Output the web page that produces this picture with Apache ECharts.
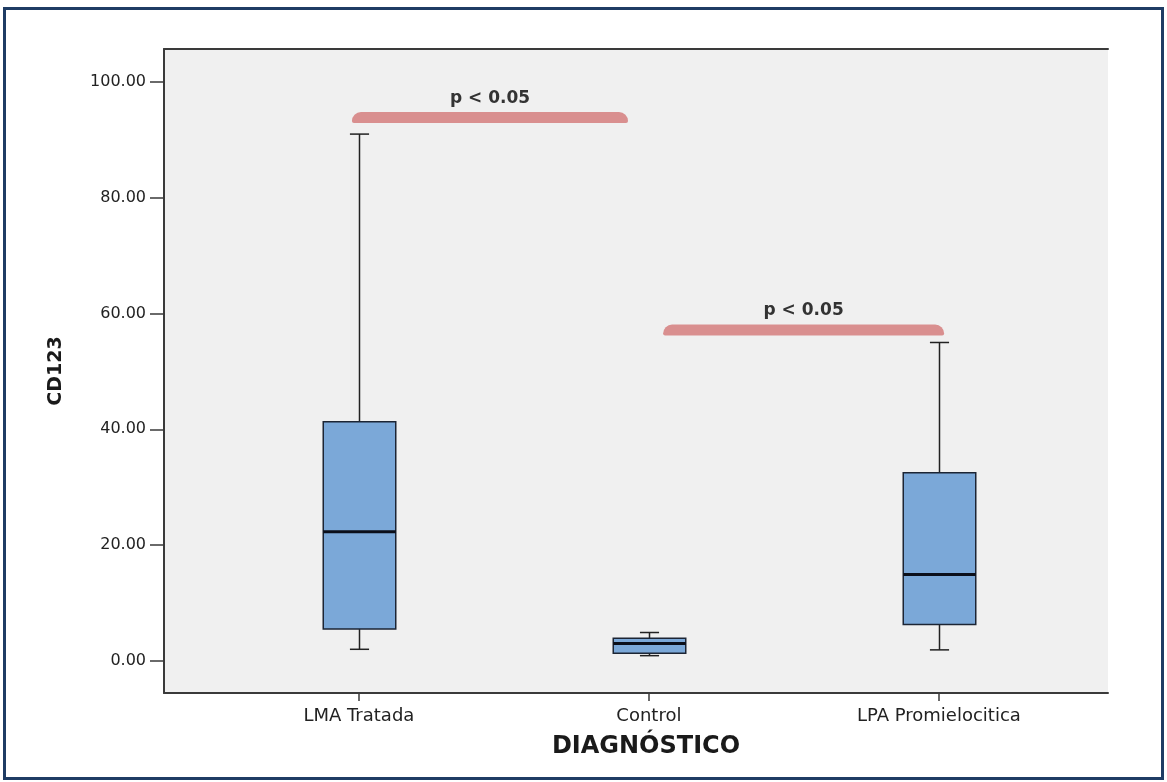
<!DOCTYPE html>
<html>
<head>
<meta charset="utf-8">
<title>CD123 por diagnóstico</title>
<script src="https://cdn.jsdelivr.net/npm/echarts@6/dist/echarts.min.js"></script>
<style>
  html, body { margin: 0; padding: 0; background: #ffffff; }
  #chart { width: 1167px; height: 782px; }
</style>
</head>
<body>
<div id="chart"></div>
<script>
// Groups and their positions on the horizontal axis
const categories = ['LMA Tratada', 'Control', 'LPA Promielocitica'];
const positions = [1, 2, 3];

// Five-number summaries of CD123 per group
const mins    = [2.0, 0.9, 1.9];
const q1s     = [5.5, 1.3, 6.3];
const medians = [22.3, 3.0, 14.9];
const q3s     = [41.3, 3.9, 32.5];
const maxs    = [91.0, 4.9, 55.0];

// Significance brackets: span on the group axis, base level and label
const bracketFrom   = [0.976, 2.049];
const bracketTo     = [1.928, 3.018];
const bracketLevel  = [92.9, 56.2];
const bracketLabels = ['p < 0.05', 'p < 0.05'];

// Y axis tick values
const yTicks = [0, 20, 40, 60, 80, 100];

const boxData = positions.map((p, i) => [p, mins[i], q1s[i], medians[i], q3s[i], maxs[i]]);
const bracketData = bracketFrom.map((f, i) => [f, bracketTo[i], bracketLevel[i], bracketLabels[i]]);

const BOX_W = 0.25;   // box width in group-axis units
const CAP_W = 0.066;  // whisker cap width in group-axis units

const chart = echarts.init(document.getElementById('chart'), null, { renderer: 'canvas' });

const axisColor = '#3a3a3a';

chart.setOption({
  backgroundColor: '#ffffff',
  animation: false,
  grid: {
    left: 164, right: 59, top: 49, bottom: 89,
    show: true, backgroundColor: '#f0f0f0', borderWidth: 0
  },
  xAxis: [
    {
      type: 'value',
      min: 0.328, max: 3.583,
      position: 'bottom',
      name: 'DIAGNÓSTICO',
      nameLocation: 'middle',
      nameGap: 42,
      nameTextStyle: {
        fontFamily: 'DejaVu Sans', fontWeight: 'bold', fontSize: 24,
        color: '#1a1a1a', padding: [0, 0, 0, 20]
      },
      axisLine: { show: true, onZero: false, lineStyle: { color: axisColor, width: 2 } },
      axisTick: { show: true, customValues: positions, length: 8, lineStyle: { color: axisColor, width: 1.5 } },
      axisLabel: {
        show: true, customValues: positions, margin: 14,
        fontFamily: 'DejaVu Sans', fontSize: 18, color: '#222',
        formatter: v => categories[Math.round(v) - 1] || ''
      },
      splitLine: { show: false }
    },
    {
      type: 'value',
      min: 0.328, max: 3.583,
      position: 'top',
      axisLine: { show: true, onZero: false, lineStyle: { color: axisColor, width: 2 } },
      axisTick: { show: false },
      axisLabel: { show: false },
      splitLine: { show: false }
    }
  ],
  yAxis: {
    type: 'value',
    min: -5.55, max: 105.7,
    name: 'CD123',
    nameLocation: 'middle',
    nameGap: 98,
    nameRotate: 90,
    nameTextStyle: { fontFamily: 'DejaVu Sans', fontWeight: 'bold', fontSize: 19, color: '#1a1a1a' },
    axisLine: { show: true, onZero: false, lineStyle: { color: axisColor, width: 2 } },
    axisTick: { show: true, customValues: yTicks, length: 14, lineStyle: { color: axisColor, width: 1.5 } },
    axisLabel: {
      show: true, customValues: yTicks, margin: 18,
      fontFamily: 'DejaVu Sans', fontSize: 16, color: '#222',
      formatter: v => v.toFixed(2)
    },
    splitLine: { show: false }
  },
  graphic: [
    {
      type: 'rect',
      shape: { x: 4.5, y: 8.5, width: 1158, height: 770 },
      style: { fill: 'none', stroke: '#1f3c64', lineWidth: 3 },
      silent: true, z: 100
    }
  ],
  series: [
    {
      name: 'CD123',
      type: 'custom',
      xAxisIndex: 0,
      data: boxData,
      z: 3,
      renderItem: function (params, api) {
        const x = api.value(0);
        const pMin = api.coord([x, api.value(1)]);
        const pQ1 = api.coord([x, api.value(2)]);
        const pMed = api.coord([x, api.value(3)]);
        const pQ3 = api.coord([x, api.value(4)]);
        const pMax = api.coord([x, api.value(5)]);
        const half = api.size([BOX_W, 0])[0] / 2;
        const cap = api.size([CAP_W, 0])[0] / 2;
        const cx = Math.round(pMin[0]) + 0.5;
        const lineStyle = { stroke: '#222', lineWidth: 1.5 };
        return {
          type: 'group',
          children: [
            { type: 'line', shape: { x1: cx, y1: pMin[1], x2: cx, y2: pQ1[1] }, style: lineStyle },
            { type: 'line', shape: { x1: cx, y1: pQ3[1], x2: cx, y2: pMax[1] }, style: lineStyle },
            { type: 'line', shape: { x1: cx - cap, y1: pMin[1], x2: cx + cap, y2: pMin[1] }, style: lineStyle },
            { type: 'line', shape: { x1: cx - cap, y1: pMax[1], x2: cx + cap, y2: pMax[1] }, style: lineStyle },
            {
              type: 'rect',
              shape: { x: cx - half, y: pQ3[1], width: half * 2, height: pQ1[1] - pQ3[1] },
              style: { fill: '#7ba8d8', stroke: '#1c2534', lineWidth: 1.5 }
            },
            {
              type: 'line',
              shape: { x1: cx - half, y1: pMed[1], x2: cx + half, y2: pMed[1] },
              style: { stroke: '#0b0f1a', lineWidth: 3 }
            }
          ]
        };
      }
    },
    {
      name: 'significance',
      type: 'custom',
      xAxisIndex: 0,
      data: bracketData,
      z: 4,
      renderItem: function (params, api) {
        const a = api.coord([api.value(0), api.value(2)]);
        const b = api.coord([api.value(1), api.value(2)]);
        const thick = 11;
        const label = bracketLabels[params.dataIndex];
        return {
          type: 'group',
          children: [
            {
              type: 'rect',
              shape: { x: a[0], y: a[1] - thick, width: b[0] - a[0], height: thick, r: [9, 9, 2, 2] },
              style: { fill: '#d98f8f' }
            },
            {
              type: 'text',
              x: (a[0] + b[0]) / 2,
              y: a[1] - thick - 14,
              style: {
                text: label,
                fontFamily: 'DejaVu Sans', fontWeight: 'bold', fontSize: 17,
                fill: '#333', align: 'center', verticalAlign: 'middle'
              }
            }
          ]
        };
      }
    }
  ]
});
</script>
</body>
</html>
